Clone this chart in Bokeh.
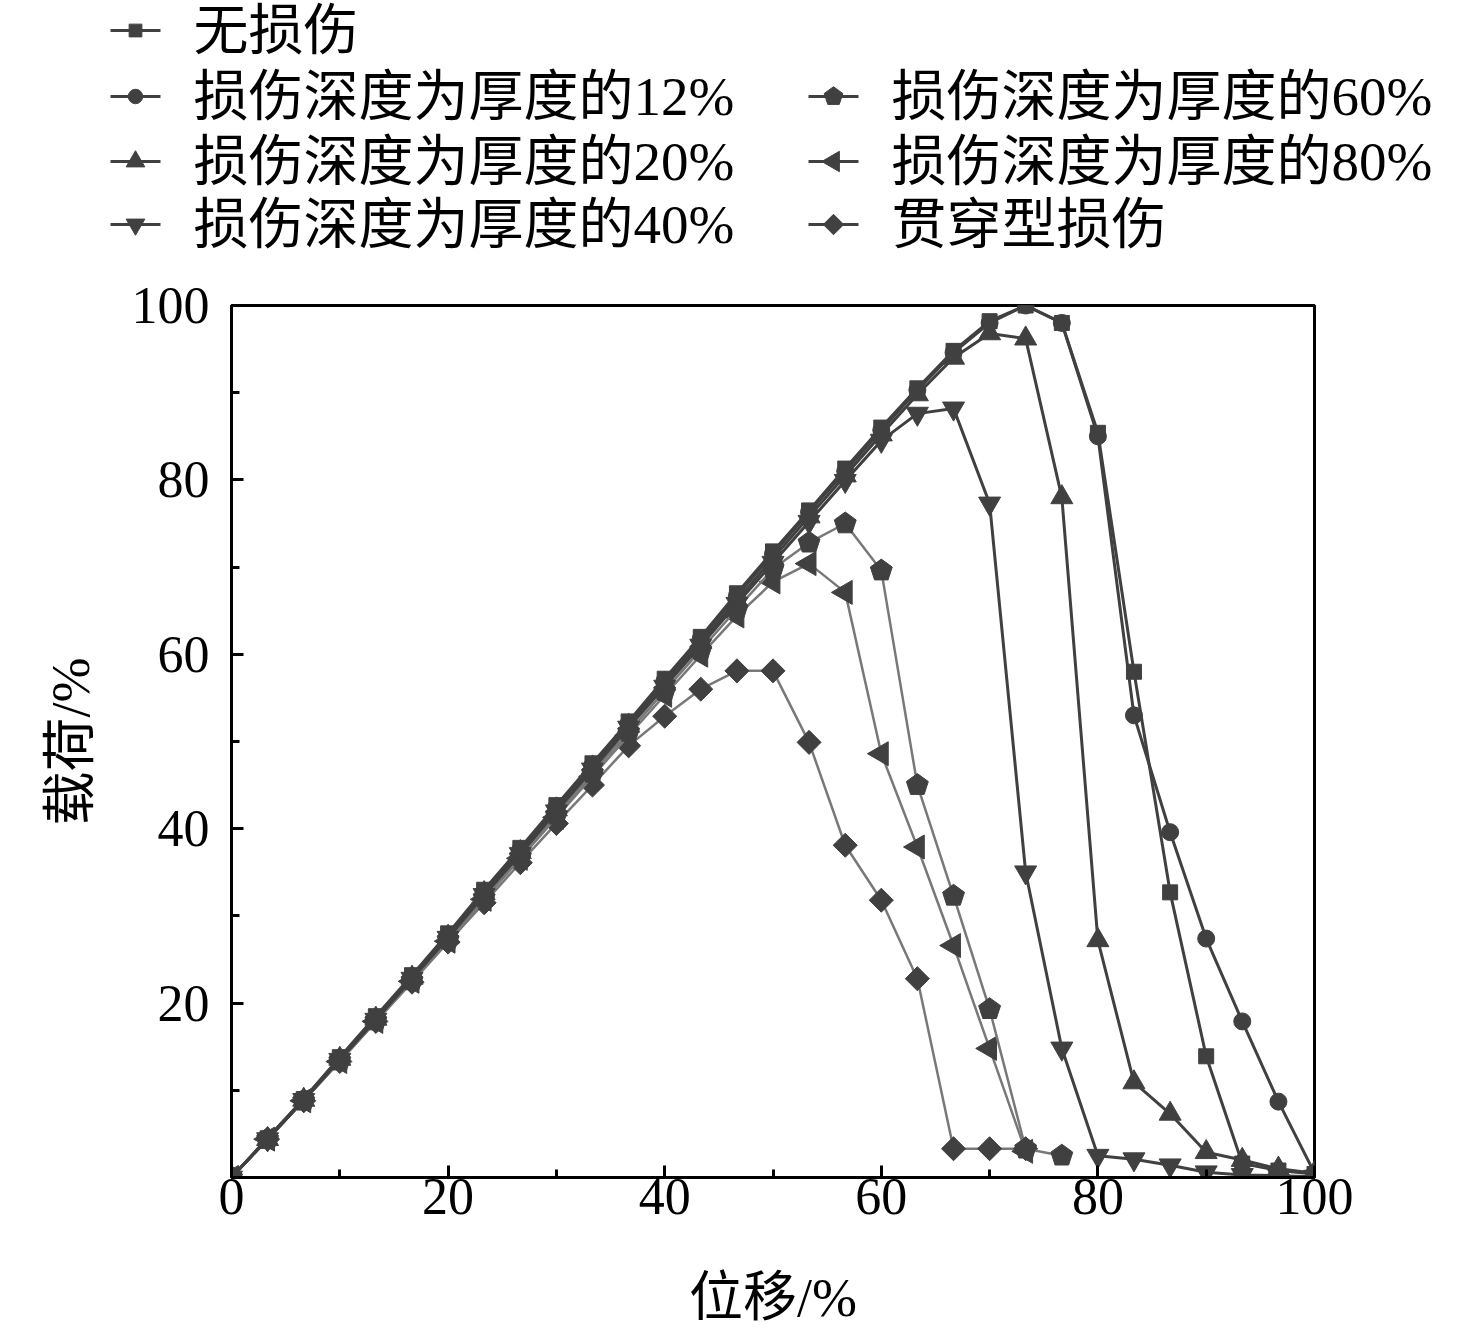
import math
from bokeh.plotting import figure
from bokeh.layouts import column
from bokeh.models import FixedTicker, Range1d
from bokeh.core.properties import value
from bokeh.embed import file_html
from bokeh.resources import INLINE

# ---------------- data ----------------
x_disp = [0, 3.33, 6.67, 10, 13.33, 16.67, 20, 23.33, 26.67, 30, 33.33, 36.67,
          40, 43.33, 46.67, 50, 53.33, 56.67, 60, 63.33, 66.67, 70, 73.33,
          76.67, 80, 83.33, 86.67, 90, 93.33, 96.67, 100]

y_none = [0, 4.5, 9.0, 13.8, 18.5, 23.2, 28.0, 33.0, 37.8, 42.7, 47.5, 52.3,
          57.2, 62.0, 67.0, 71.8, 76.5, 81.3, 86.0, 90.5, 94.8, 98.2, 100.0,
          98.0, 85.4, 58.0, 32.7, 13.9, 1.6, 0.8, 0.4]
y_12 = [0, 4.5, 9.0, 13.7, 18.3, 23.0, 27.8, 32.8, 37.6, 42.5, 47.3, 52.1,
        57.0, 61.8, 66.7, 71.5, 76.3, 81.0, 85.7, 90.3, 94.6, 98.0, 100.0,
        98.0, 85.0, 53.0, 39.6, 27.4, 17.9, 8.7, 0.5]
y_20 = [0, 4.4, 8.9, 13.6, 18.2, 22.9, 27.6, 32.6, 37.3, 42.2, 47.0, 51.8,
        56.6, 61.4, 66.2, 71.0, 75.8, 80.5, 85.2, 89.8, 94.0, 96.8, 96.2,
        78.0, 27.2, 10.9, 7.3, 2.9, 2.0, 1.0, 0.5]
y_40 = [0, 4.4, 8.9, 13.5, 18.1, 22.8, 27.5, 32.4, 37.1, 42.0, 46.8, 51.6,
        56.3, 61.0, 65.8, 70.5, 75.2, 79.9, 84.5, 87.6, 88.2, 77.3, 35.0,
        14.8, 2.5, 2.1, 1.4, 0.6, 0.3, 0.2, 0.1]
y_60 = [0, 4.4, 8.8, 13.4, 18.0, 22.6, 27.3, 32.1, 36.8, 41.6, 46.4, 51.1,
        55.8, 60.5, 65.2, 69.8, 72.8, 75.0, 69.6, 45.0, 32.3, 19.3, 3.3, 2.5]
y_80 = [0, 4.4, 8.8, 13.3, 17.9, 22.5, 27.1, 31.9, 36.6, 41.3, 46.0, 50.7,
        55.3, 59.9, 64.4, 68.3, 70.4, 67.1, 48.6, 37.9, 26.6, 14.8, 3.0]
y_thru = [0, 4.4, 8.8, 13.3, 17.9, 22.4, 27.0, 31.5, 36.1, 40.6, 45.0, 49.5,
          52.9, 56.0, 58.1, 58.1, 49.9, 38.1, 31.8, 22.8, 3.3, 3.3, 3.3]

labels = ["无损伤", "损伤深度为厚度的12%", "损伤深度为厚度的20%",
          "损伤深度为厚度的40%", "损伤深度为厚度的60%",
          "损伤深度为厚度的80%", "贯穿型损伤"]

x_ticks = [0, 20, 40, 60, 80, 100]
y_ticks = [20, 40, 60, 80, 100]
minor_ticks = [10, 30, 50, 70, 90]
x_title = "位移/%"
y_title = "载荷/%"

# ---------------- style ----------------
DARK = "#404040"
GRAY = "#787878"
FONT = "'Liberation Serif', 'Noto Sans CJK SC'"

# marker spec per series: (marker, size, angle, ngon?, line colour, line width)
styles = [
    ("square", 15, 0.0, False, DARK, 3.0),
    ("circle", 17, 0.0, False, DARK, 3.0),
    ("triangle", 22, 0.0, False, DARK, 3.0),
    ("inverted_triangle", 22, 0.0, False, DARK, 3.0),
    ("hex", 23, 0.0, True, GRAY, 2.5),
    ("triangle", 24, math.pi / 2, False, GRAY, 2.5),
    ("square", 17, math.pi / 4, False, GRAY, 2.5),
]
series_y = [y_none, y_12, y_20, y_40, y_60, y_80, y_thru]

W = 1460
LEG_H = 270
FL, FR = 231, 1314
FT, FB = 305, 1177
TOTAL_H = 1336
MAIN_H = TOTAL_H - LEG_H

# ---------------- legend strip (its own figure, pixel coordinates) ----------
leg = figure(width=W, height=LEG_H, output_backend="svg", toolbar_location=None,
             x_range=Range1d(0, W), y_range=Range1d(LEG_H, 0),
             x_axis_location=None, y_axis_location=None,
             min_border=0, min_border_left=0, min_border_right=0,
             min_border_top=0, min_border_bottom=0)
leg.grid.visible = False
leg.outline_line_color = None
leg.background_fill_color = "white"
leg.border_fill_color = "white"

# legend slots: (glyph left x, row centre y) in pixels
slots = [(110, 30), (110, 96), (110, 161), (110, 224),
         (808, 96), (808, 161), (808, 224)]

for (lx, ly), lab, st in zip(slots, labels, styles):
    marker, size, angle, is_ngon, lcol, lw = st
    leg.segment(x0=[lx], y0=[ly], x1=[lx + 50], y1=[ly],
                line_color=DARK, line_width=3)
    s = size * 0.85
    if is_ngon and hasattr(leg, "ngon"):
        leg.ngon([lx + 25], [ly], radius=s / 2.0, radius_units="screen", n=5,
                 fill_color=DARK, line_color=DARK)
    else:
        leg.scatter([lx + 25], [ly], marker=marker, size=s, angle=angle,
                    fill_color=DARK, line_color=DARK)
    leg.text([lx + 83], [ly], text=[lab], text_font=value(FONT),
             text_font_size="55px", text_color="black",
             text_baseline="middle", text_align="left")

# ---------------- main chart ----------------
p = figure(width=W, height=MAIN_H, output_backend="svg", toolbar_location=None,
           x_range=Range1d(0, 100), y_range=Range1d(0, 100),
           min_border_left=FL, min_border_right=W - FR,
           min_border_top=FT - LEG_H, min_border_bottom=MAIN_H - (FB - LEG_H))
p.grid.visible = False
p.background_fill_color = "white"
p.border_fill_color = "white"
p.outline_line_color = "black"
p.outline_line_width = 3
p.outline_line_alpha = 1

for ax in (p.xaxis[0], p.yaxis[0]):
    ax.axis_line_width = 3
    ax.axis_line_color = "black"
    ax.major_tick_in = 12
    ax.major_tick_out = 0
    ax.minor_tick_in = 8
    ax.minor_tick_out = 0
    ax.major_tick_line_width = 3
    ax.minor_tick_line_width = 3
    ax.major_label_text_font = FONT
    ax.major_label_text_font_size = "52px"
    ax.major_label_text_color = "black"
    ax.axis_label_text_font = FONT
    ax.axis_label_text_font_size = "54px"
    ax.axis_label_text_font_style = "normal"
    ax.axis_label_text_color = "black"

p.xaxis[0].ticker = FixedTicker(ticks=x_ticks, minor_ticks=minor_ticks)
p.yaxis[0].ticker = FixedTicker(ticks=y_ticks, minor_ticks=minor_ticks)
p.xaxis[0].axis_label = x_title
p.yaxis[0].axis_label = y_title
p.xaxis[0].major_label_standoff = 1
p.yaxis[0].major_label_standoff = 22
p.xaxis[0].axis_label_standoff = 51
p.yaxis[0].axis_label_standoff = 28

# draw in reverse so that the undamaged curve sits on top
for ys, st in reversed(list(zip(series_y, styles))):
    marker, size, angle, is_ngon, lcol, lw = st
    xs = x_disp[:len(ys)]
    p.line(xs, ys, line_color=lcol, line_width=lw)
    if is_ngon and hasattr(p, "ngon"):
        p.ngon(xs, ys, radius=size / 2.0, radius_units="screen", n=5,
               fill_color=DARK, line_color=DARK)
    else:
        p.scatter(xs, ys, marker=marker, size=size, angle=angle,
                  fill_color=DARK, line_color=DARK)

# keep the legend strip's frame independent of the chart's frame
if "frame_align" in leg.properties():
    leg.frame_align = False
    p.frame_align = False
    out = column(leg, p, spacing=0)
else:
    out = [leg, p]

open("out.html", "w").write(file_html(out, INLINE))
